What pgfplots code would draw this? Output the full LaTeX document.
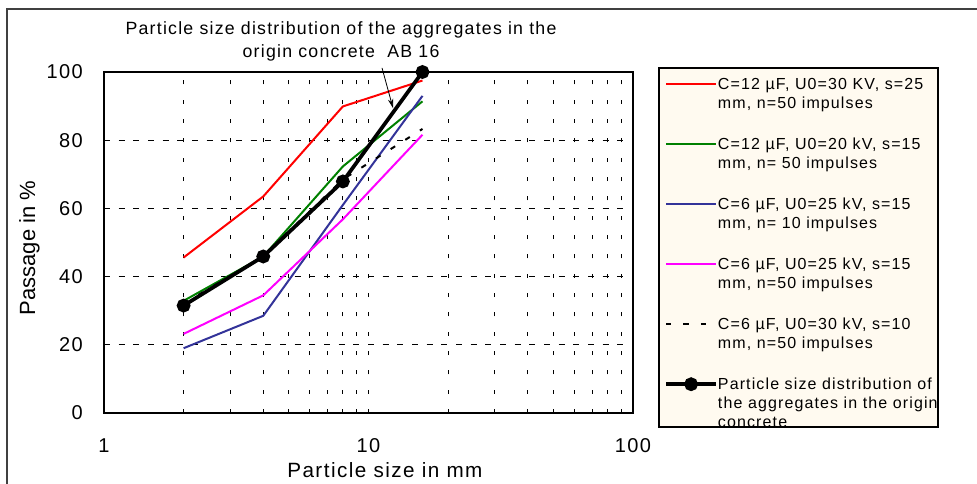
\documentclass[border=0pt]{standalone}
\usepackage{fontspec}
\setmainfont{Liberation Sans}[LetterSpace=7]
\newfontfamily\plainsans{Liberation Sans}
\usepackage{pgfplots}
\pgfplotsset{compat=1.18}
\usetikzlibrary{arrows.meta}
\definecolor{legfill}{RGB}{255,250,240}
\definecolor{navyline}{RGB}{51,51,153}
\definecolor{framegray}{RGB}{64,64,64}
\definecolor{darkgreen}{RGB}{0,128,0}
\definecolor{puremagenta}{RGB}{255,0,255}
% legend text block, baseline on its first line
\newcommand{\entry}[1]{\parbox[t]{165pt}{\raggedright #1}}

\begin{document}
\begin{tikzpicture}
\path[use as bounding box] (0,0) rectangle (732.75pt,362.25pt);
% outer frame (top and left edges)
\draw[framegray, line width=1.5pt] (5.25pt,-2pt) -- (5.25pt,355.5pt) -- (740pt,355.5pt);
% legend panel
\draw[black, line width=0.8pt, fill=legfill] (494.25pt,42pt) rectangle (703.5pt,311.25pt);
% chart title
\node[anchor=base, inner sep=0pt, font=\fontsize{13.3}{15}\selectfont] at (255.75pt,336pt)
  {Particle size distribution of the aggregates in the};
\node[anchor=base, inner sep=0pt, font=\fontsize{13.3}{15}\selectfont] at (255.75pt,318.75pt)
  {origin concrete\ \ AB 16};

\begin{axis}[
  at={(78pt,52.5pt)}, anchor=south west,
  scale only axis, width=396.75pt, height=255.75pt,
  xmode=log, xmin=1, xmax=100, ymin=0, ymax=100,
  clip=false,
  xtick={1,10,100}, xticklabels={1,10,100},
  minor xtick={2,3,4,5,6,7,8,9,20,30,40,50,60,70,80,90},
  ytick={0,20,40,60,80,100}, yticklabels={0,20,40,60,80,100},
  major tick length=0pt, minor tick length=0pt,
  xmajorgrids, xminorgrids, ymajorgrids,
  every axis x grid/.style={black, line width=0.6pt, dash pattern=on 3pt off 11.5pt},
  every axis y grid/.style={black, line width=0.6pt, dash pattern=on 4.5pt off 6.5pt},
  axis line style={black, line width=0.9pt},
  tick label style={font=\fontsize{15}{18}\selectfont},
  xticklabel style={anchor=base, inner sep=0pt, yshift=-29.25pt},
  yticklabel style={anchor=east, inner sep=0pt, xshift=-15.75pt},
  xlabel={Particle size in mm},
  ylabel={Passage in \%},
  every axis x label/.style={at={(axis description cs:0.531,-0.1877)}, anchor=base,
    inner sep=0pt, font=\fontsize{15.5}{17}\selectfont},
  every axis y label/.style={at={(axis description cs:-0.1304,0.484)}, anchor=base,
    rotate=90, inner sep=0pt, font=\plainsans\fontsize{16.5}{18}\selectfont},
  legend image code/.code={\draw[mark repeat=2,mark phase=2,#1]
    plot coordinates {(0pt,4.3pt) (18.75pt,4.3pt) (37.5pt,4.3pt)};},
  every axis legend/.style={at={(axis description cs:1.0491,1.0117)}, anchor=north west,
    shape=rectangle, draw=none, fill=none,
    inner xsep=3.75pt, inner ysep=7.75pt, column sep=0pt, row sep=12.5pt,
    cells={anchor=base west},
    font=\fontsize{12}{14.25}\selectfont,
    nodes={inner sep=0pt, text height=8.5pt, text depth=24pt}},
]
\addplot[red, line width=1.5pt] coordinates {(2,45.6) (4,63.5) (8,89.9) (16,97.5)};
\addlegendentry{\entry{C=12 µF, U0=30 KV, s=25\\mm, n=50 impulses}}
\addplot[darkgreen, line width=1.5pt] coordinates {(2,32.9) (4,45.9) (8,72.3) (16,91.4)};
\addlegendentry{\entry{C=12 µF, U0=20 kV, s=15\\mm, n= 50 impulses}}
\addplot[navyline, line width=1.5pt] coordinates {(2,19.0) (4,28.5) (8,61) (16,93)};
\addlegendentry{\entry{C=6 µF, U0=25 kV, s=15\\mm, n= 10 impulses}}
\addplot[puremagenta, line width=1.5pt] coordinates {(2,23.2) (4,34.5) (8,56.8) (16,81.6)};
\addlegendentry{\entry{C=6 µF, U0=25 kV, s=15\\mm, n=50 impulses}}
\addplot[black, line width=1.5pt, dash pattern=on 4pt off 9pt] coordinates {(2,32) (4,46) (8,68.5) (16,83.3)};
\addlegendentry{\entry{C=6 µF, U0=30 kV, s=10\\mm, n=50 impulses}}
\addplot[black, line width=2.8pt, mark=*, mark size=3.75pt] coordinates {(2,31.5) (4,45.9) (8,67.9) (16,100)};
\addlegendentry{\entry{Particle size distribution of\\the aggregates in the origin\\concrete}}
% pointer from the title to the reference curve
\draw[-{Stealth[length=7pt,width=4pt]}, line width=0.6pt] (axis cs:11.25,101.2) -- (axis cs:12.38,89.4);
\end{axis}
\end{tikzpicture}
\end{document}
